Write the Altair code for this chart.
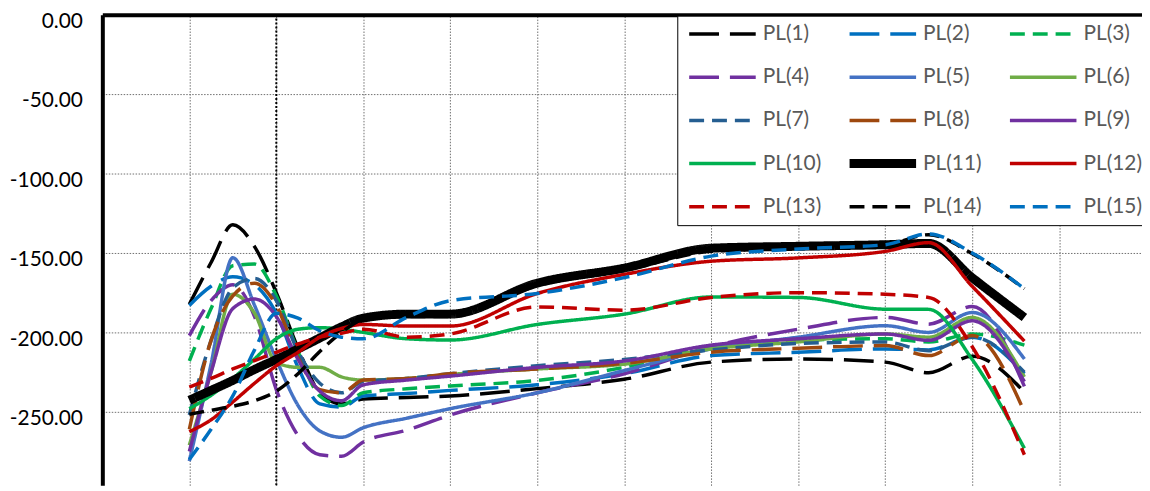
import altair as alt
import pandas as pd

# ---------------- data ----------------
x_vals = [1, 1.25, 1.5, 1.75, 2, 2.25, 2.5, 2.75, 3, 3.5, 4, 5, 6, 7, 8, 9, 9.5, 10, 10.6]

pl1 = [-182.3, -156, -132.3, -146, -175, -210, -238, -245, -242, -241, -240, -235.4, -229.5, -218.7, -216.7, -218.7, -225.4, -215, -237.5]
pl2 = [-183, -171, -165, -170, -188, -222, -245, -247, -240, -238.5, -236.5, -233, -226, -214.6, -212.5, -210.4, -211, -203, -226]
pl3 = [-218, -185, -158, -157, -177, -212, -240, -246, -238, -235.5, -233.7, -230.2, -222, -209, -205, -204, -206, -201, -208]
pl4 = [-202, -180, -170, -190, -236, -265, -277, -278, -269, -261.5, -252, -238, -226, -209, -198, -190.6, -194.8, -183.7, -234]
pl5 = [-281, -220, -153, -183, -217, -246, -262, -266, -260, -254, -248, -238, -224, -210.4, -203, -195.8, -200, -187.5, -216.7]
pl6 = [-271, -225, -176, -188, -219, -222, -222, -228, -230, -229, -226.5, -223, -220, -210.4, -206, -201, -203, -190.6, -228]
pl7 = [-252, -205, -172, -166, -180, -212, -232, -238, -231, -229, -226, -221, -217, -211, -207, -206, -211.5, -203, -225]
pl8 = [-261, -205, -177, -169, -183, -216, -236, -238, -230, -229, -226, -223, -219.5, -212.5, -210, -208.3, -214.6, -202, -250]
pl9 = [-275, -225, -185, -179, -190, -217, -237, -243, -233, -230, -227.5, -222, -218, -208, -204, -201, -205, -192.7, -231]
pl10 = [-248, -239.6, -229, -216.7, -204, -198, -197, -198, -200, -204, -204.8, -195, -188.5, -177.7, -178, -185.4, -185.5, -217, -273]
pl11 = [-242.7, -236.5, -230.2, -223.3, -217, -210.4, -203.5, -196.5, -191, -188.5, -188.5, -169, -159.5, -147, -145.8, -144.8, -144, -165.6, -190.6]
pl12 = [-262.5, -255, -243.8, -232, -221, -212.5, -203, -197.5, -195, -196, -196, -175.5, -163.5, -155.2, -153.1, -149, -143.5, -171, -205.5]
pl13 = [-234.4, -229, -223, -217.7, -212.5, -207.3, -203, -200.5, -198, -203, -201, -184, -186, -178, -175, -176, -178, -209, -277]
pl14 = [-251.5, -249, -246.5, -243, -237, -226, -212, -200, -192, -190, -190, -170.5, -161, -149, -147, -145, -138.5, -150.5, -172.5]
pl15 = [-280, -261, -240, -211, -188, -191, -199, -203, -204, -190.5, -180, -175.5, -165.5, -152, -147.5, -144.8, -138, -150, -172.5]

series_names = ["PL(1)", "PL(2)", "PL(3)", "PL(4)", "PL(5)", "PL(6)", "PL(7)", "PL(8)",
                "PL(9)", "PL(10)", "PL(11)", "PL(12)", "PL(13)", "PL(14)", "PL(15)"]
series_values = [pl1, pl2, pl3, pl4, pl5, pl6, pl7, pl8, pl9, pl10, pl11, pl12, pl13, pl14, pl15]

marker_x = [2]
y_ticks = [0, -50, -100, -150, -200, -250]
x_grid = [1, 2, 3, 4, 5, 6, 7, 8, 9, 10, 11]

# ---------------- styles ----------------
LONG = [30, 11]
SHORT = [15, 8]
SOLID = [1, 0]
colors = ["#000000", "#0070C0", "#00B050", "#7030A0", "#4472C4", "#70AD47", "#255E91", "#9E480E",
          "#7030A0", "#00B050", "#000000", "#C00000", "#C00000", "#000000", "#0070C0"]
dashes = [LONG, LONG, SHORT, LONG, SOLID, SOLID, SHORT, LONG,
          SOLID, SOLID, SOLID, SOLID, SHORT, SHORT, SHORT]
widths = [3.5, 3.5, 3.5, 3.5, 3.5, 3.5, 3.5, 3.5, 3.5, 3.5, 9, 3.5, 3.5, 3.5, 3.5]

rows = []
for name, vals in zip(series_names, series_values):
    for xv, yv in zip(x_vals, vals):
        rows.append({"series": name, "x": xv, "y": yv})
df = pd.DataFrame(rows)
rule_df = pd.DataFrame({"x": marker_x})

PX_PER_X = 87.6
PX_PER_Y = 1.6
W, H = 1047, 474
x_scale = alt.Scale(domain=[0, W / PX_PER_X], nice=False, zero=False)
y_scale = alt.Scale(domain=[-H / PX_PER_Y, 0], nice=False, zero=False)

GRID_COLOR = "#707070"
GRID_DASH = [1.5, 1.5]

x_axis = alt.Axis(orient="top", labels=False, ticks=False, domain=True, domainColor="black",
                  domainWidth=4, grid=True, gridColor=GRID_COLOR, gridDash=GRID_DASH, gridWidth=1,
                  values=x_grid, title=None)
y_axis = alt.Axis(orient="left", ticks=False, domain=True, domainColor="black", domainWidth=4,
                  grid=True, gridColor=GRID_COLOR, gridDash=GRID_DASH, gridWidth=1,
                  values=y_ticks,
                  labelExpr="(datum.value < 0 ? '-' : '') + format(abs(datum.value), '.2f')",
                  labelFont="Lato", labelFontSize=21,
                  labelColor="black", labelPadding=20, labelOffset=7, title=None)

legend = alt.Legend(orient="none", legendX=579, legendY=1, columns=3, direction="horizontal",
                    symbolType="M-6,0H6", symbolSize=124.7, symbolOffset=27, labelOffset=30,
                    clipHeight=21,
                    labelFontSize=21, labelFont="Lato", labelColor="#595959",
                    columnPadding=24.5, rowPadding=21.5, padding=8, strokeColor="black",
                    fillColor="white")

rule = alt.Chart(rule_df).mark_rule(color="black", strokeWidth=2, strokeDash=[2, 2]).encode(
    x=alt.X("x:Q", scale=x_scale, axis=x_axis)
)

lines = alt.Chart(df).mark_line(interpolate="monotone", strokeCap="butt", clip=True).encode(
    x=alt.X("x:Q", scale=x_scale, axis=x_axis),
    y=alt.Y("y:Q", scale=y_scale, axis=y_axis),
    color=alt.Color("series:N", scale=alt.Scale(domain=series_names, range=colors),
                    legend=legend, title=None),
    strokeDash=alt.StrokeDash("series:N", scale=alt.Scale(domain=series_names, range=dashes),
                              legend=legend, title=None),
    strokeWidth=alt.StrokeWidth("series:N",
                                scale=alt.Scale(type="ordinal", domain=series_names, range=widths),
                                legend=legend, title=None),
)

chart = alt.layer(rule, lines).properties(
    width=W, height=H,
    padding={"left": 95, "top": 5, "right": 0, "bottom": 0},
    autosize=alt.AutoSizeParams(type="none"),
    background="white",
).configure_view(strokeWidth=0)

chart.save("out.html", embed_options={"renderer": "svg", "actions": False})
